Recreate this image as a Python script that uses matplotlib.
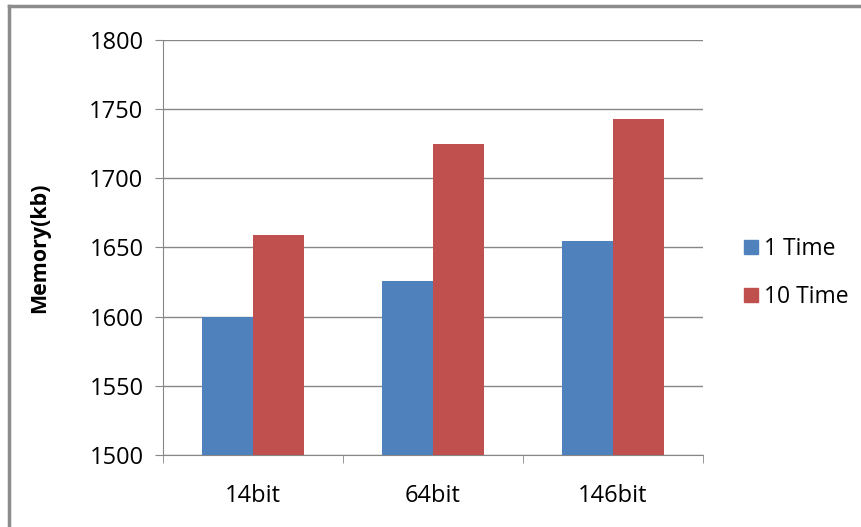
import matplotlib
matplotlib.use("Agg")
import matplotlib.pyplot as plt
import numpy as np
from matplotlib.patches import Patch
from matplotlib.lines import Line2D

categories = ["14bit", "64bit", "146bit"]
one_time = [1600, 1626, 1655]
ten_time = [1659, 1725, 1743]
series_names = ["1 Time", "10 Time"]
yticks = [1500, 1550, 1600, 1650, 1700, 1750, 1800]

W, H = 862, 527
fig = plt.figure(figsize=(W/100, H/100), dpi=100)
plt.rcParams['font.family'] = ['Open Sans', 'DejaVu Sans']

ax = fig.add_axes([163/W, 1-455/H, (703-163)/W, (455-40)/H])
x = np.arange(len(categories))
bw = 0.2857
blue = "#4F81BD"
red = "#C0504D"
ax.bar(x - bw/2, [v - 1500 for v in one_time], bw, bottom=1500, color=blue, zorder=3, label=series_names[0])
ax.bar(x + bw/2, [v - 1500 for v in ten_time], bw, bottom=1500, color=red, zorder=3, label=series_names[1])

ax.set_xlim(-0.5, len(categories) - 0.5)
ax.set_ylim(1500, 1800)
ax.set_yticks(yticks)
ax.set_yticklabels([str(t) for t in yticks], fontsize=17)
ax.yaxis.grid(True, color="#878787", linewidth=1, zorder=0)
ax.set_xticks(x)
ax.set_xticklabels(categories, fontsize=17)
ax.tick_params(axis='x', length=0, pad=21)
ax.tick_params(axis='y', length=6, color="#878787", direction='out', pad=8)
ax.set_xticks(np.arange(-0.5, len(categories), 1), minor=True)
ax.tick_params(axis='x', which='minor', length=6, color="#878787", direction='out')
for s in ["top", "right"]:
    ax.spines[s].set_visible(False)
for s in ["left", "bottom"]:
    ax.spines[s].set_color("#878787")
ax.set_ylabel("Memory(kb)", fontsize=15.5, fontweight='bold', labelpad=28)

handles = [Patch(color=blue), Patch(color=red)]
leg = fig.legend(handles, series_names, loc='upper left', bbox_to_anchor=(735/W, 1-228/H),
                 frameon=False, fontsize=16.5, handlelength=0.6, handleheight=0.6,
                 handletextpad=0.25, labelspacing=1.05, borderaxespad=0)

fig.add_artist(Line2D([9/W, 9/W], [0, 1-5.5/H], transform=fig.transFigure, color="#8C8C8C", linewidth=2.5))
fig.add_artist(Line2D([9/W, 1], [1-5.5/H, 1-5.5/H], transform=fig.transFigure, color="#8C8C8C", linewidth=2.5))

fig.savefig("out.png", dpi=100)
